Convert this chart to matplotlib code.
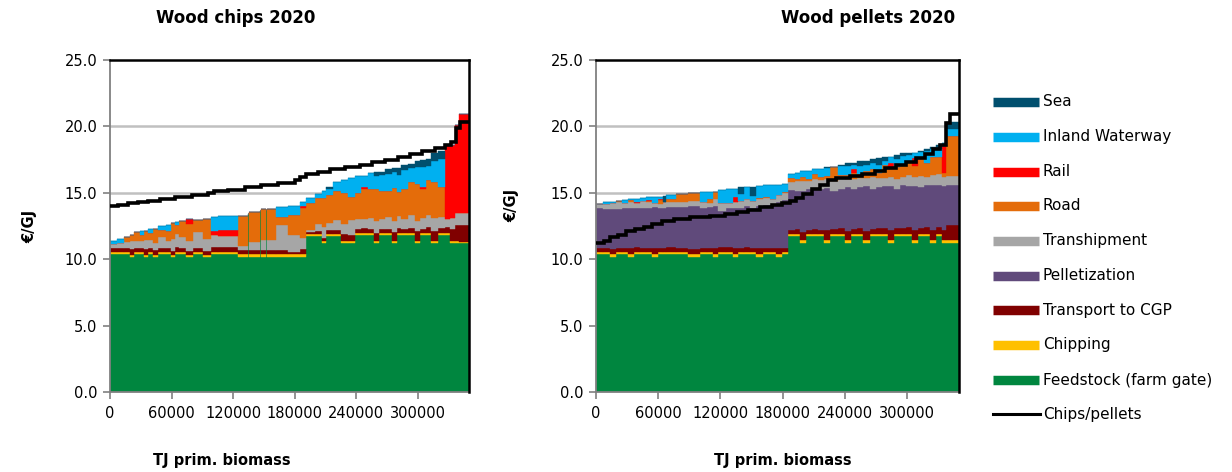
import numpy as np
import matplotlib
matplotlib.use("Agg")
import matplotlib.pyplot as plt
from matplotlib.lines import Line2D

plt.rcParams['font.family'] = ['DejaVu Sans']

# ---------------- legend / colours ----------------
legend_labels = ["Sea", "Inland Waterway", "Rail", "Road", "Transhipment",
                 "Pelletization", "Transport to CGP", "Chipping",
                 "Feedstock (farm gate)", "Chips/pellets"]
COL = {
    "Feedstock (farm gate)": "#00863F",
    "Chipping": "#FFC000",
    "Transport to CGP": "#800000",
    "Pelletization": "#604A7B",
    "Transhipment": "#A6A6A6",
    "Road": "#E46C0A",
    "Rail": "#FF0000",
    "Inland Waterway": "#00B0F0",
    "Sea": "#004F6E",
}

# ---------------- Wood chips 2020 (segments, TJ and EUR/GJ) ----------------
chips_width = [6800, 6800, 5900, 3900, 5900, 3900, 3900, 4900, 4900, 7800,
               4900, 3900, 3900, 6800, 6800, 9800, 7800, 6800, 19500, 9800,
               900, 10700, 900, 4900, 900, 8800, 11700, 11700, 5900,
               8800, 6800, 3900, 6800, 7800, 6800, 6800, 5900, 6800, 5900,
               4900, 5900, 6800, 4900, 3900, 6800, 6800, 4900, 5900, 4900,
               6800, 6800, 4900, 4900, 3900, 9300]
chips_feed = [10.40, 10.40, 10.40, 10.20, 10.40, 10.40, 10.20, 10.40, 10.20, 10.40,
              10.40, 10.15, 10.40, 10.40, 10.15, 10.40, 10.15, 10.40, 10.39, 10.20,
              13.40, 10.20, 13.60, 10.20, 13.70, 10.20, 10.20, 10.20, 10.20,
              11.75, 11.75, 11.20, 11.75, 11.75, 11.20, 11.25, 11.80, 11.80, 11.80,
              11.25, 11.80, 11.80, 11.25, 11.80, 11.80, 11.80, 11.25, 11.80, 11.80,
              11.25, 11.80, 11.80, 11.25, 11.20, 11.20]
chips_chipping = [.15, .15, .15, .15, .15, .15, .15, .15, .15, .15,
                  .15, .15, .15, .15, .15, .15, .15, .15, .17, .20,
                  0, .18, 0, .18, 0, .18, .18, .18, .18,
                  .17, .17, .17, .17, .17, .17, .15, .15, .15, .15,
                  .15, .15, .15, .15, .15, .15, .15, .15, .15, .15,
                  .15, .15, .15, .15, .15, .12]
chips_cgp = [.30, .30, .30, .40, .30, .30, .40, .30, .35, .30,
             .30, .35, .35, .30, .35, .30, .35, .35, .38, .30,
             0, .35, 0, .35, 0, .35, .32, .18, .40,
             .10, .20, .25, .25, .30, .50, .42, .30, .40, .35,
             .60, .35, .30, .65, .40, .35, .40, .70, .35, .50,
             .70, .40, .50, .90, 1.20, 1.25]
chips_tranship = [.30, .35, .45, .60, .55, .50, .70, .60, .50, .80,
                  .55, .90, 1.00, .80, .70, 1.20, .90, .90, .81, .32,
                  0, .60, 0, .72, 0, .72, 1.87, 1.26, .80,
                  .20, .50, .80, .55, .70, .80, 1.13, .80, .65, .80,
                  .90, .70, .90, .80, .90, .70, 1.00, .80, .80, .90,
                  1.00, .80, .60, .80, .90, .88]
chips_road = [0, 0, .40, .50, .65, .50, .70, .50, 1.05, .55,
              .70, 1.15, .70, 1.25, 1.30, .90, 1.50, 0, 0, 2.26,
              0, 2.25, 0, 2.30, 0, 2.30, .63, 1.51, 2.30,
              2.00, 2.00, 2.20, 2.10, 2.20, 2.30, 1.75, 1.95, 2.30, 2.20,
              2.40, 2.10, 2.00, 2.50, 1.80, 2.30, 2.50, 2.80, 2.20, 2.60,
              2.70, 2.30, 0, 0, 0, 0]
chips_rail = [0, 0, 0, 0, 0, 0, 0, 0, 0, 0,
              0, 0, 0, 0, .35, 0, 0, .35, .45, 0,
              0, 0, 0, 0, 0, 0, 0, 0, .15,
              0, 0, 0, 0, 0, 0, 0, 0, .10, 0,
              0, 0, 0, 0, 0, 0, 0, 0, .15, 0,
              0, 0, 5.55, 5.50, 6.65, 7.48]
chips_inland = [.20, .35, 0, 0, 0, .25, 0, .35, 0, .30,
                .50, 0, .20, 0, 0, 0, 0, 1.05, 1.05, 0,
                0, 0, 0, 0, 0, 0, .70, .67, .30,
                .38, .30, .50, .50, .70, 1.00, 1.40, 1.30, .90, 1.20,
                1.00, 1.25, 1.25, 1.25, 1.30, 1.40, 1.00, 1.25, 1.50, 1.10,
                1.60, 2.10, 0, 0, 0, 0]
chips_sea = [0, 0, 0, 0, 0, 0, 0, 0, 0, 0,
             0, 0, 0, 0, 0, 0, 0, 0, 0, 0,
             0, 0, 0, 0, 0, 0, 0, 0, 0,
             0, 0, 0, .08, 0, 0, 0, 0, 0, 0,
             .25, .25, .40, .30, .50, .40, .35, .45, .50, .50,
             .60, .60, 0, 0, 0, 0]

chips_line_x = [0, 7800, 17600, 27300, 37100, 48800, 63400, 80000, 95600, 101500,
                115100, 131700, 147300, 163900, 180500, 185400, 191200, 202900,
                214600, 229300, 243900, 255600, 268300, 281000, 292700, 304400,
                317100, 326800, 332700, 337600, 341500, 349800]
chips_line_y = [13.98, 14.10, 14.20, 14.30, 14.42, 14.55, 14.68, 14.80, 14.95, 15.12,
                15.20, 15.40, 15.55, 15.75, 15.95, 16.20, 16.45, 16.60,
                16.78, 16.95, 17.10, 17.30, 17.50, 17.70, 17.95, 18.15,
                18.40, 18.60, 18.80, 19.85, 20.35, 20.35]

# ---------------- Wood pellets 2020 ----------------
pel_width = [6700, 6700, 5800, 5800, 5800, 5800, 5800, 5800, 5800, 5800,
             4800, 2900, 9600, 11600, 11600, 6700, 5800, 4800, 7700, 6700,
             4800, 5800, 5800, 5800, 6700, 6700, 5800, 5800, 5800,
             6700, 4800, 5800, 5800, 5800, 5800, 5800, 7700, 6700, 5800,
             5800, 5800, 6700, 5800, 5800, 5800, 5800, 5800, 5800, 5800,
             5800, 5800, 5800, 5800, 5800, 3900, 12500]
pel_feed = [10.40, 10.40, 10.20, 10.40, 10.40, 10.20, 10.40, 10.40, 10.40, 10.20,
            10.40, 10.40, 10.40, 10.40, 10.20, 10.40, 10.40, 10.20, 10.40, 10.40,
            10.20, 10.40, 10.40, 10.40, 10.20, 10.40, 10.40, 10.20, 10.40,
            11.75, 11.75, 11.25, 11.75, 11.75, 11.75, 11.25, 11.75, 11.75, 11.25,
            11.75, 11.75, 11.25, 11.75, 11.75, 11.75, 11.25, 11.75, 11.75, 11.75,
            11.25, 11.75, 11.75, 11.25, 11.75, 11.25, 11.25]
pel_chipping = [.17] * 55 + [.20]
pel_cgp = [.25, .30, .40, .30, .30, .45, .35, .30, .30, .45,
           .30, .30, .35, .30, .40, .30, .30, .50, .35, .35,
           .50, .30, .35, .30, .50, .30, .30, .45, .30,
           .30, .35, .60, .30, .35, .30, .75, .35, .40, .70,
           .35, .40, .70, .35, .40, .45, .80, .40, .45, .50,
           .80, .45, .50, .80, .50, .80, 1.12]
pel_pelletization = [3.05, 2.90, 3.00, 2.90, 3.00, 3.00, 2.95, 3.00, 2.95, 3.10,
                     3.00, 3.00, 3.00, 3.05, 3.20, 3.00, 3.05, 3.10, 2.70, 2.90,
                     3.00, 3.00, 3.10, 3.00, 3.10, 3.20, 3.20, 3.50, 3.60,
                     3.00, 2.90, 3.10, 3.10, 3.05, 3.10, 3.20, 2.90, 3.00, 3.30,
                     3.00, 3.10, 3.40, 3.00, 3.10, 3.15, 3.30, 3.00, 3.20, 3.10,
                     3.30, 3.10, 3.20, 3.40, 3.20, 3.30, 3.03]
pel_tranship = [.25, .40, .45, .50, .35, .45, .35, .50, .45, .30,
                .30, .40, .40, .35, .40, .45, .30, .60, .60, .40,
                .40, .50, .50, .50, .55, .55, .45, .55, .50,
                .60, .70, .80, .60, .70, .65, .70, .70, .80, .60,
                .80, .70, .60, .90, .70, .60, .70, .75, .60, .80,
                .70, .80, .60, .70, .80, .70, .67]
pel_road = [0, 0, 0, .10, 0, .20, 0, 0, .10, 0,
            .30, 0, .20, .65, .60, 0, .30, .50, 0, 0,
            0, 0, 0, 0, .10, .10, 0, 0, .10,
            .30, .20, .30, .10, .40, .20, .20, 1.10, .20, .30,
            .40, .30, .50, .60, .40, 1.00, .60, .90, 1.00, 1.10,
            .80, 1.30, 1.00, 1.40, 1.30, .30, 3.00]
pel_rail = [0, 0, 0, 0, 0, 0, .10, 0, .10, 0,
            .10, 0, .05, 0, 0, 0, 0, 0, 0, 0,
            .40, 0, 0, 0, 0, 0, 0, 0, 0,
            0, 0, 0, 0, 0, 0, 0, 0, 0, 0,
            .30, 0, 0, 0, 0, 0, .40, 0, 0, 0,
            .60, 0, 0, 0, 0, 2.00, 0]
pel_inland = [.05, .10, .10, .05, .25, .05, .20, .25, .20, .50,
              .15, 0, .30, 0, 0, .75, .55, 0, 1.00, 1.03,
              .60, .55, .95, .40, .90, .85, 1.07, .75, .60,
              .30, .45, .40, .65, .35, .65, .60, 0, .70, .70,
              .35, .60, .50, .50, .60, .30, .50, .55, .60, .40,
              .40, .50, .90, .60, .60, .20, .57]
pel_sea = [0, 0, 0, 0, 0, 0, 0, 0, 0, 0,
           0, .50, 0, 0, 0, 0, 0, 0, 0, 0,
           0, .50, 0, .70, 0, 0, 0, 0, 0,
           0, 0, 0, 0, 0, 0, .10, 0, .10, .20,
           .15, .35, .30, .25, .50, .25, 0, .30, .20, .20,
           0, .10, .20, .10, .25, 0, .50]

pel_line_x = [0, 8000, 13800, 21500, 29200, 37800, 46500, 54200, 63800, 75400,
              90800, 110000, 124500, 136100, 146700, 158200, 169800, 179400,
              187100, 192900, 199600, 208300, 216000, 223700, 231400, 244900,
              256400, 269000, 278600, 289200, 298800, 308400, 317100, 324800,
              331500, 337300, 341100, 349800]
pel_line_y = [11.20, 11.35, 11.65, 11.85, 12.15, 12.30, 12.45, 12.65, 12.85, 13.00,
              13.15, 13.28, 13.40, 13.55, 13.72, 13.90, 14.05, 14.20,
              14.35, 14.60, 14.90, 15.25, 15.60, 15.95, 16.15, 16.30,
              16.45, 16.65, 16.85, 17.10, 17.35, 17.65, 17.95, 18.30,
              18.60, 20.25, 20.90, 20.90]

x_ticks = [0, 60000, 120000, 180000, 240000, 300000]
y_ticks = [0, 5, 10, 15, 20, 25]

W, H = 1232, 472
fig = plt.figure(figsize=(W / 100, H / 100), dpi=100)


def draw(ax, widths, stacks, lx, ly):
    widths = np.asarray(widths, float)
    left = np.concatenate([[0], np.cumsum(widths)[:-1]])
    bottom = np.zeros(len(widths))
    for name, vals in stacks:
        vals = np.asarray(vals, float)
        ax.bar(left, vals, width=widths, bottom=bottom, align='edge',
               color=COL[name], edgecolor=COL[name], linewidth=0.3, zorder=2)
        bottom = bottom + vals
    ax.plot(lx, ly, drawstyle='steps-post', color='black', lw=2.6, zorder=4,
            solid_joinstyle='miter')
    ax.set_xlim(0, 350000)
    ax.set_ylim(0, 25)
    ax.set_yticks(y_ticks)
    ax.set_yticklabels([f"{v:.1f}" for v in y_ticks])
    ax.set_xticks(x_ticks)
    ax.set_xticklabels([str(v) for v in x_ticks])
    ax.tick_params(axis='both', labelsize=10.5, color='#808080', length=5,
                   width=1.2, direction='out')
    ax.tick_params(axis='y', pad=4)
    ax.tick_params(axis='x', pad=5)
    for v in [5, 10, 15, 20]:
        ax.axhline(v, color='#C0C0C0', lw=1.8, zorder=1)
    for s in ['left', 'bottom']:
        ax.spines[s].set_color('#808080')
        ax.spines[s].set_linewidth(1.3)
    for s in ['top', 'right']:
        ax.spines[s].set_color('black')
        ax.spines[s].set_linewidth(1.8)
        ax.spines[s].set_zorder(5)


axL = fig.add_axes([110 / W, 1 - 392 / H, 359 / W, 332 / H])
draw(axL, chips_width,
     [("Feedstock (farm gate)", chips_feed), ("Chipping", chips_chipping),
      ("Transport to CGP", chips_cgp), ("Transhipment", chips_tranship),
      ("Road", chips_road), ("Rail", chips_rail),
      ("Inland Waterway", chips_inland), ("Sea", chips_sea)],
     chips_line_x, chips_line_y)

axR = fig.add_axes([596 / W, 1 - 392 / H, 363 / W, 332 / H])
draw(axR, pel_width,
     [("Feedstock (farm gate)", pel_feed), ("Chipping", pel_chipping),
      ("Transport to CGP", pel_cgp), ("Pelletization", pel_pelletization),
      ("Transhipment", pel_tranship), ("Road", pel_road), ("Rail", pel_rail),
      ("Inland Waterway", pel_inland), ("Sea", pel_sea)],
     pel_line_x, pel_line_y)

# titles and axis labels
fig.text(236 / W, 1 - 18 / H, "Wood chips 2020", ha='center', va='center',
         fontsize=12, fontweight='bold')
fig.text(868 / W, 1 - 18 / H, "Wood pellets 2020", ha='center', va='center',
         fontsize=12, fontweight='bold')
fig.text(30 / W, 1 - 226 / H, "€/GJ", rotation=90, ha='center', va='center',
         fontsize=10.5, fontweight='bold')
fig.text(512 / W, 1 - 205 / H, "€/GJ", rotation=90, ha='center', va='center',
         fontsize=10.5, fontweight='bold')
fig.text(222 / W, 1 - 461 / H, "TJ prim. biomass", ha='center', va='center',
         fontsize=10.5, fontweight='bold')
fig.text(783 / W, 1 - 461 / H, "TJ prim. biomass", ha='center', va='center',
         fontsize=10.5, fontweight='bold')

# legend
row_y = [102, 137, 172, 206, 241, 276, 310, 345, 380, 414]
for lab, yy in zip(legend_labels, row_y):
    yf = 1 - yy / H
    if lab == "Chips/pellets":
        fig.add_artist(Line2D([993 / W, 1040 / W], [yf, yf], color='black', lw=2.2,
                              transform=fig.transFigure))
    else:
        fig.add_artist(Line2D([993 / W, 1039 / W], [yf, yf], color=COL[lab], lw=6.8,
                              solid_capstyle='butt', transform=fig.transFigure))
    fig.text(1043 / W, yf, lab, ha='left', va='center', fontsize=11)

fig.savefig("out.png", dpi=100)
